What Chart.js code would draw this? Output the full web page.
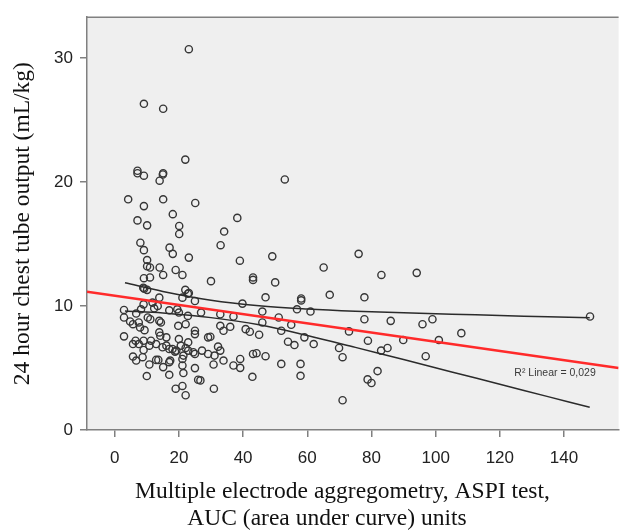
<!DOCTYPE html>
<html>
<head>
<meta charset="utf-8">
<script src="https://cdn.jsdelivr.net/npm/chart.js@4/dist/chart.umd.min.js"></script>
<style>
html,body{margin:0;padding:0;background:#ffffff;}
#wrap{width:624px;height:530px;position:relative;}
</style>
</head>
<body>
<div id="wrap"><canvas id="c" width="624" height="530"></canvas></div>
<script>
// Scatter values (x: ASPI AUC units, y: 24 h chest tube output mL/kg)
const aspiAuc = [
  23.1, 9.1, 15.1, 22.0, 7.1, 7.1, 9.1, 15.1, 15.0, 14.0, 53.0, 4.2, 9.1, 15.1, 25.1, 18.1, 38.2, 7.1, 10.1, 20.1,
  20.1, 34.1, 33.0, 8.0, 9.1, 17.1, 18.1, 23.1, 39.0, 49.1, 76.0, 10.1, 10.1, 11.0, 14.0, 15.1, 19.0, 21.1, 65.1, 83.1,
  94.1, 9.1, 11.0, 30.0, 43.1, 43.1, 50.0, 8.9, 9.2, 10.1, 22.0, 23.1, 22.8,
  47.0, 58.1, 58.1, 67.0, 77.8, 56.8, 61.0, 46.0, 46.0, 51.1, 55.0, 51.9, 42.1, 45.0, 59.1, 54.0, 56.0, 62.0, 73.0, 77.8,
  86.0, 78.9, 89.9, 95.9, 99.0, 101.0, 69.9, 71.0, 83.0, 85.0, 96.9, 43.1, 44.2, 47.0, 51.9, 57.9, 57.9, 42.9, 81.9, 78.8,
  80.0, 71.0,
  108.0, 148.1,
  13.9, 21.1, 25.0, 39.8, 2.9, 2.9, 4.8, 6.7, 8.2, 9.0, 11.8, 12.3, 13.4, 17.0, 19.5, 20.0, 22.8, 26.9, 32.9, 37.0,
  5.7, 7.5, 7.9, 9.3, 10.3, 11.1, 13.9, 14.4, 19.8, 22.1, 25.0, 25.0, 32.9, 33.9, 36.0, 40.8, 2.9, 6.5, 5.7, 7.5,
  9.0, 9.0, 10.8, 11.3, 12.9, 13.9, 14.2, 14.9, 16.1, 16.1, 17.0, 18.0, 18.8, 19.2, 20.6, 20.0, 22.1, 22.9, 21.4, 22.9,
  24.5, 25.0, 27.2, 29.1, 29.8, 29.1, 31.1, 32.2, 32.9, 33.9, 39.1, 37.0, 39.1, 5.7, 6.7, 8.7, 10.8, 12.9, 13.6, 15.1,
  17.0, 17.3, 21.1, 21.1, 25.0, 30.8, 26.7, 26.0, 17.0, 10.0, 21.4, 19.0, 21.1, 22.1, 30.9
];
const chestTube = [
  30.7, 26.3, 25.9, 21.8, 20.9, 20.7, 20.5, 20.7, 20.6, 20.1, 20.2, 18.6, 18.05, 18.6, 18.3, 17.4, 17.1, 16.9, 16.5, 16.45,
  15.8, 16.0, 14.9, 15.1, 14.5, 14.7, 14.2, 13.9, 13.65, 14.0, 14.2, 13.7, 13.2, 13.1, 13.1, 12.5, 12.9, 12.5, 13.1, 12.5,
  12.67, 12.24, 12.3, 12.0, 12.3, 12.1, 11.9, 11.47, 11.4, 11.3, 11.3, 11.04, 10.99,
  10.7, 10.6, 10.45, 10.9, 10.7, 9.73, 9.55, 9.55, 8.67, 9.07, 8.48, 8.0, 7.92, 7.68, 7.47, 7.12, 6.85, 6.93, 7.95, 8.93,
  8.8, 7.2, 7.25, 8.53, 8.93, 7.25, 6.61, 5.87, 6.4, 6.61, 5.95, 6.13, 6.19, 5.95, 5.33, 5.33, 4.37, 4.29, 4.75, 4.08,
  3.79, 2.4,
  7.81, 9.15,
  10.67, 10.67, 10.4, 10.19, 9.68, 9.07, 8.75, 9.39, 9.73, 10.13, 10.27, 9.81, 10.0, 9.65, 9.73, 9.47, 9.2, 9.47, 9.33, 9.15,
  8.53, 8.67, 8.27, 8.05, 9.07, 8.93, 8.8, 8.67, 8.4, 8.53, 8.0, 7.73, 8.4, 8.0, 8.32, 8.13, 7.55, 7.2, 6.93, 6.93,
  7.2, 6.45, 6.8, 7.2, 6.93, 7.87, 7.6, 6.67, 7.47, 6.8, 6.53, 6.53, 6.32, 6.4, 6.8, 7.33, 6.61, 7.07, 6.0, 6.4,
  6.27, 6.13, 6.4, 7.47, 7.52, 6.13, 6.0, 6.72, 6.4, 5.6, 5.73, 5.2, 5.01, 5.92, 5.6, 5.87, 5.28, 5.65, 5.65, 5.07,
  5.47, 5.6, 5.73, 5.2, 4.99, 5.28, 4.0, 4.05, 4.45, 4.35, 4.59, 3.33, 3.55, 2.8, 3.33
];

// Linear fit line (red), read at the plot edges
const fitX = [-8.63, 157];
const fitY = [11.15, 5.0];

// Confidence band curves (black), read along x
const ciX = [3.2, 15, 30, 45, 60, 75, 90, 105, 120, 135, 148];
const ciUpper = [11.87, 11.17, 10.46, 10.02, 9.76, 9.58, 9.45, 9.34, 9.23, 9.13, 9.05];
const ciLower = [9.60, 9.43, 9.06, 8.48, 7.62, 6.66, 5.68, 4.68, 3.69, 2.69, 1.83];

const xTicks = [0, 20, 40, 60, 80, 100, 120, 140];
const yTicks = [0, 10, 20, 30];

const xTitleLines = ['Multiple electrode aggregometry, ASPI test,', 'AUC (area under curve) units'];
const yTitle = '24 hour chest tube output (mL/kg)';
const r2Label = 'R\u00B2 Linear = 0,029';

const toXY = (xs, ys) => xs.map((v, i) => ({x: v, y: ys[i]}));

const AXIS_GRAY = '#808080';

const decor = {
  id: 'decor',
  beforeDraw(chart) {
    const {ctx, chartArea: a} = chart;
    ctx.save();
    ctx.fillStyle = '#efefef';
    ctx.fillRect(a.left, a.top, a.right - a.left, a.bottom - a.top);
    ctx.restore();
  },
  afterDraw(chart) {
    const {ctx, chartArea: a, scales} = chart;
    ctx.save();
    // top frame line
    ctx.strokeStyle = AXIS_GRAY;
    ctx.lineWidth = 1.5;
    ctx.beginPath();
    ctx.moveTo(a.left, a.top);
    ctx.lineTo(a.right, a.top);
    ctx.stroke();
    // R² annotation
    ctx.fillStyle = '#3a3a3a';
    ctx.font = '10.5px "Liberation Sans", Arial, sans-serif';
    ctx.textAlign = 'center';
    ctx.textBaseline = 'middle';
    ctx.fillText(r2Label, scales.x.getPixelForValue(137.2), scales.y.getPixelForValue(4.6));
    // x axis title (two lines)
    ctx.fillStyle = '#111111';
    ctx.font = '23.5px "Liberation Serif", "Times New Roman", serif';
    ctx.textBaseline = 'alphabetic';
    ctx.textAlign = 'center';
    ctx.fillText(xTitleLines[0], 342.5, 498);
    ctx.fillText(xTitleLines[1], 327, 525);
    ctx.restore();
  }
};

new Chart(document.getElementById('c'), {
  type: 'scatter',
  data: {
    datasets: [
      {
        type: 'line',
        label: 'Linear fit',
        data: toXY(fitX, fitY),
        borderColor: '#ff2a2a',
        borderWidth: 2.6,
        pointRadius: 0,
        showLine: true,
        fill: false
      },
      {
        type: 'line',
        label: 'Upper',
        data: toXY(ciX, ciUpper),
        borderColor: '#2b2b2b',
        borderWidth: 1.5,
        pointRadius: 0,
        tension: 0.35,
        showLine: true,
        fill: false
      },
      {
        type: 'line',
        label: 'Lower',
        data: toXY(ciX, ciLower),
        borderColor: '#2b2b2b',
        borderWidth: 1.5,
        pointRadius: 0,
        tension: 0.35,
        showLine: true,
        fill: false
      },
      {
        label: 'Patients',
        data: toXY(aspiAuc, chestTube),
        pointStyle: 'circle',
        pointRadius: 3.6,
        pointBorderWidth: 1.4,
        borderColor: '#363636',
        backgroundColor: 'rgba(0,0,0,0)',
        pointBackgroundColor: 'rgba(0,0,0,0)',
        pointBorderColor: '#363636'
      }
    ]
  },
  options: {
    responsive: false,
    devicePixelRatio: 1,
    animation: false,
    layout: {padding: {top: 14, right: 0, bottom: 0, left: 0}},
    plugins: {legend: {display: false}, tooltip: {enabled: false}},
    scales: {
      x: {
        type: 'linear',
        position: 'bottom',
        min: -8.63,
        max: 157,
        afterBuildTicks: s => { s.ticks = xTicks.map(v => ({value: v})); },
        afterFit: s => { s.height = 100; },
        grid: {drawOnChartArea: false, drawTicks: true, tickLength: 7, color: AXIS_GRAY, lineWidth: 1.5},
        border: {display: true, color: AXIS_GRAY, width: 1.5},
        ticks: {
          color: '#222222',
          padding: 11,
          maxRotation: 0,
          font: {family: '"Liberation Sans", Arial, sans-serif', size: 17}
        },
        title: {display: false}
      },
      y: {
        type: 'linear',
        position: 'left',
        min: 0,
        max: 33.28,
        afterBuildTicks: s => { s.ticks = yTicks.map(v => ({value: v})); },
        afterFit: s => { s.width = 87; },
        grid: {drawOnChartArea: false, drawTicks: true, tickLength: 7, color: AXIS_GRAY, lineWidth: 1.5},
        border: {display: true, color: AXIS_GRAY, width: 1.5},
        ticks: {
          color: '#222222',
          padding: 7,
          font: {family: '"Liberation Sans", Arial, sans-serif', size: 17}
        },
        title: {
          display: true,
          text: yTitle,
          color: '#111111',
          font: {family: '"Liberation Serif", "Times New Roman", serif', size: 23.5},
          padding: {top: 9, bottom: 0}
        }
      }
    }
  },
  plugins: [decor]
});
</script>
</body>
</html>
